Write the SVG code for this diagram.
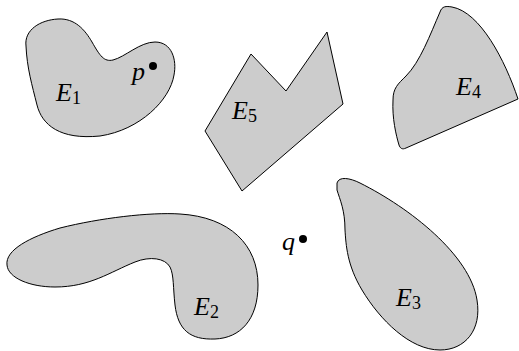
<svg xmlns="http://www.w3.org/2000/svg" width="519" height="351" viewBox="0 0 519 351">
<style>
.r{fill:#cccccc;stroke:#000;stroke-width:1}
.t{font-family:"Liberation Serif","DejaVu Serif",serif;font-style:italic;font-size:26px;fill:#000}
.s{font-style:normal;font-size:18px}
</style>
<rect width="519" height="351" fill="#fff"/>
<g id="E1">
<path class="r" d="M 26,46 C 24,30 40,20 58,19 C 75,18 85,30 92,42 C 100,56 104,62 113,60 C 125,57 140,42 155,42 C 172,42 177,60 174,75 C 170,100 140,130 100,136 C 60,140 42,125 37,105 C 32,85 27,68 26,46 Z"/>
<text class="t" x="56" y="101">E<tspan class="s" dy="3">1</tspan></text>
</g>
<g id="p">
<circle cx="153" cy="66" r="4"/>
<text class="t" x="132" y="80">p</text>
</g>
<g id="E5">
<polygon class="r" points="205,131 251,54 286,91 327,32 343,104 242,191"/>
<text class="t" x="232" y="119">E<tspan class="s" dy="3">5</tspan></text>
</g>
<g id="E4">
<path class="r" d="M 440,12 C 442,6 446,6 452,7 C 480,12 505,60 518,99 L 406,148 C 402,150 400,148 399,145 C 396,135 392,118 393,100 C 393,88 398,84 406,76 C 420,62 430,35 440,12 Z"/>
<text class="t" x="456" y="95">E<tspan class="s" dy="3">4</tspan></text>
</g>
<g id="E2">
<path class="r" d="M 7,265 C 5,250 30,237 60,228 C 100,218 150,212 180,214 C 230,217 258,245 258,285 C 258,320 240,338 215,339 C 190,340 178,330 175,305 C 173,288 174,275 170,267 C 165,258 150,256 135,262 C 110,272 90,287 55,287 C 30,287 8,278 7,265 Z"/>
<text class="t" x="194" y="315">E<tspan class="s" dy="3">2</tspan></text>
</g>
<g id="E3">
<path class="r" d="M 337,183 C 339,176 350,178 360,183 C 410,208 470,255 477,300 C 482,330 465,350 440,350 C 410,350 380,320 362,290 C 347,265 346,245 345,230 C 345,210 340,200 337,190 Z"/>
<text class="t" x="396" y="306">E<tspan class="s" dy="3">3</tspan></text>
</g>
<g id="q">
<circle cx="303" cy="239" r="4"/>
<text class="t" x="282" y="250">q</text>
</g>
<g id="connectors"></g>
</svg>
